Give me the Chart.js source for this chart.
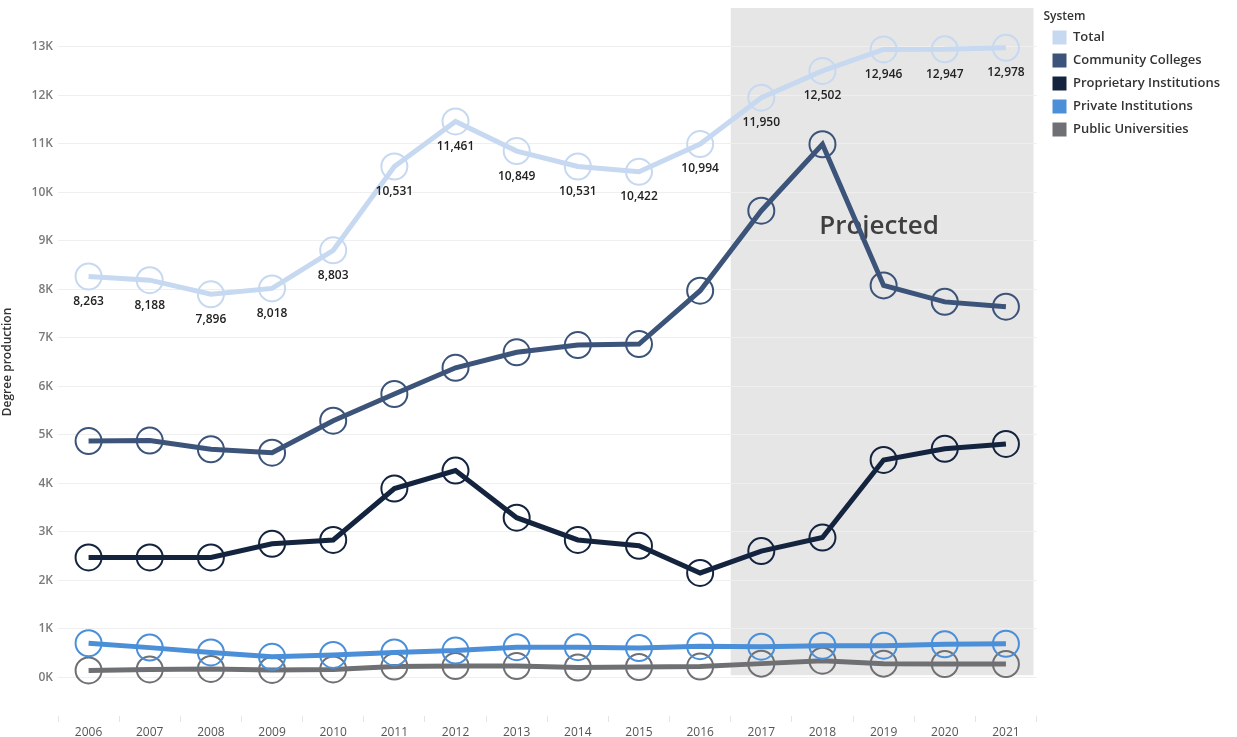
<!DOCTYPE html>
<html lang="en">
<head>
    <meta charset="UTF-8">
    <title>Degree production by system</title>
    <script src="https://cdn.jsdelivr.net/npm/chart.js"></script>
    <style>
        html, body { margin: 0; padding: 0; background: #fff; }
        #wrap { position: relative; width: 1237px; height: 737px; }
    </style>
</head>
<body>
    <div id="wrap"><canvas id="chart"></canvas></div>

    <script>
        // data
        const years = ['2006', '2007', '2008', '2009', '2010', '2011', '2012', '2013',
                       '2014', '2015', '2016', '2017', '2018', '2019', '2020', '2021'];
        const total = [8263, 8188, 7896, 8018, 8803, 10531, 11461, 10849,
                       10531, 10422, 10994, 11950, 12502, 12946, 12947, 12978];
        const communityColleges = [4870, 4880, 4700, 4630, 5290, 5840, 6380, 6700,
                                   6850, 6870, 7970, 9620, 10990, 8080, 7740, 7640];
        const proprietary = [2470, 2470, 2470, 2750, 2830, 3890, 4260, 3290,
                             2830, 2710, 2150, 2600, 2880, 4480, 4710, 4810];
        const privateInst = [700, 610, 510, 420, 460, 510, 550, 620,
                             620, 600, 640, 630, 650, 650, 680, 690];
        const publicUniv = [140, 160, 170, 150, 160, 220, 230, 230,
                            200, 210, 220, 280, 340, 280, 270, 270];
        const yTicks = [0, 1000, 2000, 3000, 4000, 5000, 6000, 7000,
                        8000, 9000, 10000, 11000, 12000, 13000];
        const projectedStart = '2017';

        const FONT = '"Open Sans", "Segoe UI", sans-serif';

        function series(label, data, color) {
            return {
                label: label,
                data: data,
                borderColor: color,
                backgroundColor: color,
                borderWidth: 5,
                tension: 0,
                pointRadius: 13,
                pointHoverRadius: 13,
                pointBorderWidth: 2,
                pointBorderColor: color,
                pointBackgroundColor: 'rgba(0,0,0,0)'
            };
        }

        // grey "Projected" band, drawn before the grid so grid lines show on it
        const projectedBand = {
            id: 'projectedBand',
            afterLayout(chart) {
                // nudge the legend a little to the right, like the original
                chart.legend.left += 7;
                chart.legend.right += 7;
            },
            beforeDraw(chart) {
                const { ctx, chartArea, scales } = chart;
                const i = years.indexOf(projectedStart);
                const x0 = (scales.x.getPixelForValue(i - 1) + scales.x.getPixelForValue(i)) / 2;
                const x1 = chartArea.right - 3;
                const y1 = scales.y.getPixelForValue(0) - 2;
                ctx.save();
                ctx.fillStyle = '#e6e6e6';
                ctx.fillRect(x0, chartArea.top, x1 - x0, y1 - chartArea.top);
                ctx.fillStyle = '#3f3f3f';
                ctx.font = '600 26px ' + FONT;
                ctx.textAlign = 'center';
                ctx.textBaseline = 'middle';
                ctx.fillText('Projected', (x0 + x1) / 2 - 3, scales.y.getPixelForValue(9300));
                ctx.restore();
            }
        };

        // value labels under the Total line
        const totalLabels = {
            id: 'totalLabels',
            afterDatasetsDraw(chart) {
                const { ctx } = chart;
                const meta = chart.getDatasetMeta(0);
                ctx.save();
                ctx.fillStyle = '#222';
                ctx.font = '600 12px ' + FONT;
                ctx.textAlign = 'center';
                ctx.textBaseline = 'middle';
                meta.data.forEach((pt, i) => {
                    ctx.fillText(total[i].toLocaleString('en-US'), pt.x, pt.y + 25);
                });
                ctx.restore();
            }
        };

        new Chart(document.getElementById('chart'), {
            type: 'line',
            data: {
                labels: years,
                datasets: [
                    series('Total', total, '#c6d9f1'),
                    series('Community Colleges', communityColleges, '#3c5479'),
                    series('Proprietary Institutions', proprietary, '#14243f'),
                    series('Private Institutions', privateInst, '#4a8fd8'),
                    series('Public Universities', publicUniv, '#6f7074')
                ]
            },
            options: {
                responsive: true,
                maintainAspectRatio: false,
                animation: false,
                layout: { autoPadding: false, padding: { top: 8, right: 14, left: 0, bottom: 0 } },
                plugins: {
                    tooltip: { enabled: false },
                    legend: {
                        position: 'right',
                        align: 'start',
                        title: {
                            display: true,
                            text: 'System',
                            position: 'start',
                            color: '#333',
                            font: { family: FONT, size: 12, weight: '600' },
                            padding: { top: 3, bottom: -4 }
                        },
                        labels: {
                            boxWidth: 14,
                            boxHeight: 14,
                            padding: 9,
                            color: '#333',
                            font: { family: FONT, size: 13, weight: '600' },
                            generateLabels(chart) {
                                return chart.data.datasets.map((ds, i) => ({
                                    text: ds.label,
                                    fillStyle: ds.backgroundColor,
                                    strokeStyle: ds.backgroundColor,
                                    lineWidth: 0,
                                    hidden: false,
                                    datasetIndex: i
                                }));
                            }
                        }
                    }
                },
                scales: {
                    x: {
                        offset: true,
                        border: { display: false },
                        grid: {
                            offset: true,
                            drawOnChartArea: false,
                            tickLength: 6,
                            color: '#e4e4e4'
                        },
                        ticks: {
                            color: '#555',
                            padding: 3,
                            font: { family: FONT, size: 12 }
                        },
                        afterFit(axis) { axis.height = 21; }
                    },
                    y: {
                        min: -800,
                        max: 13800,
                        border: { display: false },
                        afterBuildTicks(axis) {
                            axis.ticks = yTicks.map(v => ({ value: v }));
                        },
                        grid: { color: '#efefef', drawTicks: false },
                        ticks: {
                            color: '#7a7a7a',
                            padding: 5,
                            font: { family: FONT, size: 12, weight: '600' },
                            callback: v => (v / 1000) + 'K'
                        },
                        title: {
                            display: true,
                            text: 'Degree production',
                            color: '#333',
                            padding: { top: 0, bottom: 2 },
                            font: { family: FONT, size: 12, weight: '600' }
                        },
                        afterFit(axis) {
                            axis.width = 58;
                            axis.paddingTop = 0;
                            axis.paddingBottom = 0;
                        }
                    }
                }
            },
            plugins: [projectedBand, totalLabels]
        });
    </script>
</body>
</html>
